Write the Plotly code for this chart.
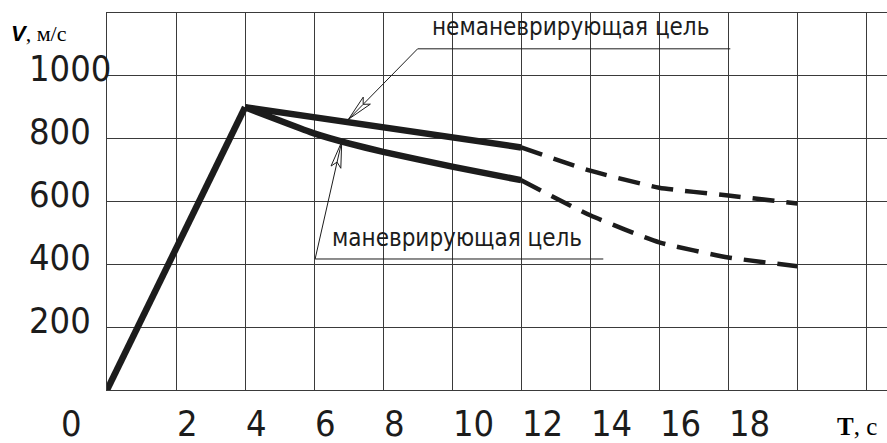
import plotly.graph_objects as go
import math

# ---- data ----
t_rise = [0, 4]
v_rise = [0, 900]

t_nonman_solid = [4, 6, 8, 10, 12]
v_nonman_solid = [900, 868, 838, 807, 772]
t_man_solid = [4, 5, 6, 7, 8, 10, 12]
v_man_solid = [900, 858, 817, 785, 758, 711, 668]

t_dash = [12, 14, 16, 18, 20]
v_nonman_dash = [772, 698, 644, 619, 594]
v_man_dash = [668, 556, 470, 422, 394]

x_tick_vals = [0, 2, 4, 6, 8, 10, 12, 14, 16, 18]
x_tick_text = ["0", "2", "4", "6", "8", "10", "12", "14", "16", "18"]
y_tick_vals = [200, 400, 600, 800, 1000]
y_tick_text = ["200", "400", "600", "800", "1000"]

label_nonman = "неманеврирующая цель"
label_man = "маневрирующая цель"
# label anchor (T, V), leader knee (T, V), underline end T, arrow tip (T, V)
nonman_text_pos = (9.36, 1156)
nonman_knee = (9.0, 1086)
nonman_line_end = 18.06
nonman_tip = (7.0, 862)
man_text_pos = (6.46, 484)
man_knee = (6.03, 417)
man_line_end = 14.38
man_tip = (6.8, 790)

# ---- layout constants ----
W, H = 887, 443
ML, MR, MT, MB = 107, 0, 13, 53
XMAX, YMAX = 22.6, 1200
PW, PH = W - ML - MR, H - MT - MB
sx, sy = PW / XMAX, PH / YMAX

INK = "#1c1c1c"
GRID = "#3a3a3a"
NUMFONT = "DejaVu Sans Condensed, DejaVu Sans, sans-serif"

fig = go.Figure()

thick = dict(color=INK, width=6.5)
fig.add_trace(go.Scatter(x=t_rise, y=v_rise, mode="lines", line=thick, hoverinfo="skip"))
fig.add_trace(go.Scatter(x=t_nonman_solid, y=v_nonman_solid, mode="lines", line=thick, hoverinfo="skip"))
fig.add_trace(go.Scatter(x=t_man_solid, y=v_man_solid, mode="lines",
                         line=dict(thick, shape="spline", smoothing=0.4), hoverinfo="skip"))
dash = dict(color=INK, width=4.5, dash="22px,12px", shape="spline", smoothing=0.5)
fig.add_trace(go.Scatter(x=t_dash, y=v_nonman_dash, mode="lines", line=dash, hoverinfo="skip"))
fig.add_trace(go.Scatter(x=t_dash, y=v_man_dash, mode="lines", line=dash, hoverinfo="skip"))


def leader(knee, line_end, tip):
    thin = dict(color=INK, width=1)
    fig.add_trace(go.Scatter(x=[line_end, knee[0], tip[0]], y=[knee[1], knee[1], tip[1]],
                             mode="lines", line=thin, hoverinfo="skip"))
    # open arrowhead built in pixel space
    dx = (knee[0] - tip[0]) * sx
    dy = (knee[1] - tip[1]) * sy
    L = math.hypot(dx, dy)
    ux, uy = dx / L, dy / L
    px, py = -uy, ux
    ln, hw = 26, 5
    bx, by = ux * ln, uy * ln
    pts = [(0, 0), (bx + px * hw, by + py * hw), (bx * 0.8, by * 0.8),
           (bx - px * hw, by - py * hw), (0, 0)]
    xs = [tip[0] + p[0] / sx for p in pts]
    ys = [tip[1] + p[1] / sy for p in pts]
    fig.add_trace(go.Scatter(x=xs, y=ys, mode="lines", fill="toself", fillcolor="white",
                             line=thin, hoverinfo="skip"))
    fig.add_trace(go.Scatter(x=[tip[0] + bx * 0.8 / sx, tip[0]], y=[tip[1] + by * 0.8 / sy, tip[1]],
                             mode="lines", line=thin, hoverinfo="skip"))


leader(nonman_knee, nonman_line_end, nonman_tip)
leader(man_knee, man_line_end, man_tip)

ann = []
lblfont = dict(family=NUMFONT, size=24, color=INK)
ann.append(dict(x=nonman_text_pos[0], y=nonman_text_pos[1], text=label_nonman, showarrow=False,
                xanchor="left", yanchor="middle", font=lblfont))
ann.append(dict(x=man_text_pos[0], y=man_text_pos[1], text=label_man, showarrow=False,
                xanchor="left", yanchor="middle", font=lblfont))

numfont = dict(family=NUMFONT, size=36, color=INK)
for v, t in zip(x_tick_vals, x_tick_text):
    if v == 0:
        ann.append(dict(x=v, y=0, yref="paper", text=t, showarrow=False, xanchor="center",
                        yanchor="middle", xshift=-36, yshift=-33, font=numfont))
    else:
        ann.append(dict(x=v, y=0, yref="paper", text=t, showarrow=False, xanchor="left",
                        yanchor="middle", xshift=-1, yshift=-33, font=numfont))
for v, t in zip(y_tick_vals, y_tick_text):
    ann.append(dict(x=0, xref="paper", y=v, text=t, showarrow=False, xanchor="left",
                    yanchor="middle", xshift=-80, yshift=7, font=numfont))

ann.append(dict(x=0, xref="paper", y=1, yref="paper", xanchor="left", yanchor="middle",
                xshift=-98, yshift=-20, showarrow=False,
                text="<b><i>V</i></b><span style='font-family:Liberation Serif,Times New Roman,serif'>, м/с</span>",
                font=dict(family="Liberation Sans, Arial, sans-serif", size=22, color="black")))
ann.append(dict(x=1, xref="paper", y=0, yref="paper", xanchor="right", yanchor="middle",
                xshift=-8, yshift=-36, showarrow=False,
                text="<b>T</b>, c",
                font=dict(family="Liberation Serif, Times New Roman, serif", size=25, color="black")))

fig.update_layout(
    width=W, height=H,
    margin=dict(l=ML, r=MR, t=MT, b=MB),
    paper_bgcolor="white", plot_bgcolor="white",
    showlegend=False,
    annotations=ann,
    xaxis=dict(range=[0, XMAX], dtick=2, tick0=0, showgrid=True, gridcolor=GRID, gridwidth=1,
               showline=True, linecolor=GRID, linewidth=1, mirror=True,
               zeroline=False, showticklabels=False, ticks="", fixedrange=True),
    yaxis=dict(range=[0, YMAX], dtick=200, tick0=0, showgrid=True, gridcolor=GRID, gridwidth=1,
               showline=True, linecolor=GRID, linewidth=1,
               zeroline=False, showticklabels=False, ticks="", fixedrange=True),
)

fig.write_html("out.html", config={"displayModeBar": False},
               post_script="document.body.style.margin='0';document.body.style.overflow='hidden';")
